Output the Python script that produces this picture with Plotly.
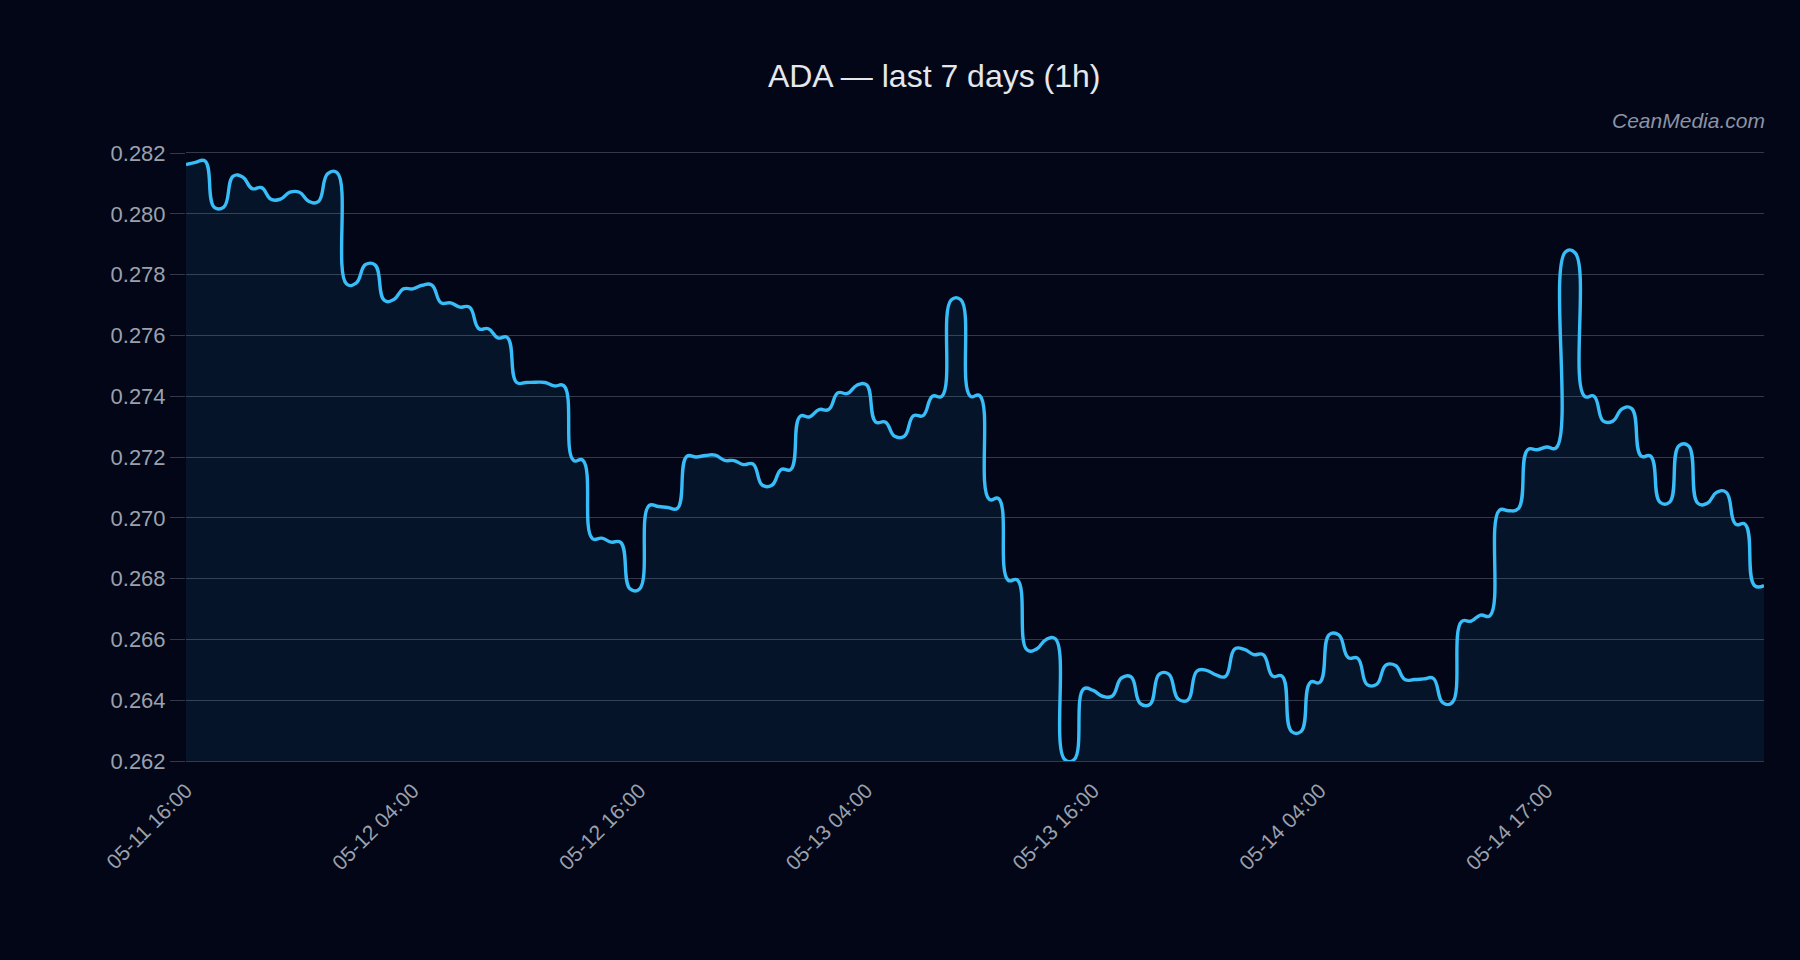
import plotly.graph_objects as go

TITLE = "ADA — last 7 days (1h)"
WATERMARK = "CeanMedia.com"

# price samples (one per x step)
PRICE = [
    0.28162, 0.28169, 0.28174, 0.28021, 0.28022, 0.28124, 0.28121, 0.28083, 0.28086, 0.28048,
    0.28048, 0.28071, 0.28071, 0.28041, 0.28040, 0.28132, 0.28135, 0.27769, 0.27772, 0.27833,
    0.27832, 0.27715, 0.27718, 0.27753, 0.27753, 0.27765, 0.27766, 0.27707, 0.27707, 0.27693,
    0.27693, 0.27622, 0.27622, 0.27592, 0.27593, 0.27445, 0.27445, 0.27446, 0.27445, 0.27434,
    0.27434, 0.27189, 0.27189, 0.26932, 0.26933, 0.26920, 0.26919, 0.26766, 0.26766, 0.27040,
    0.27037, 0.27034, 0.27031, 0.27202, 0.27200, 0.27205, 0.27206, 0.27189, 0.27188, 0.27175,
    0.27177, 0.27107, 0.27107, 0.27159, 0.27159, 0.27334, 0.27332, 0.27356, 0.27356, 0.27411,
    0.27409, 0.27436, 0.27438, 0.27315, 0.27315, 0.27268, 0.27268, 0.27336, 0.27336, 0.27400,
    0.27400, 0.27717, 0.27717, 0.27400, 0.27402, 0.27061, 0.27063, 0.26795, 0.26795, 0.26566,
    0.26568, 0.26599, 0.26602, 0.26205, 0.26205, 0.26437, 0.26432, 0.26413, 0.26413, 0.26473,
    0.26477, 0.26389, 0.26386, 0.26486, 0.26486, 0.26404, 0.26400, 0.26496, 0.26498, 0.26483,
    0.26478, 0.26569, 0.26567, 0.26550, 0.26550, 0.26479, 0.26479, 0.26297, 0.26297, 0.26459,
    0.26459, 0.26616, 0.26615, 0.26540, 0.26538, 0.26451, 0.26452, 0.26516, 0.26514, 0.26468,
    0.26468, 0.26470, 0.26472, 0.26392, 0.26392, 0.26659, 0.26660, 0.26680, 0.26678, 0.27025,
    0.27023, 0.27030, 0.27224, 0.27224, 0.27233, 0.27230, 0.27875, 0.27872, 0.27400, 0.27400,
    0.27318, 0.27318, 0.27359, 0.27359, 0.27203, 0.27203, 0.27051, 0.27051, 0.27237, 0.27237,
    0.27048, 0.27048, 0.27084, 0.27084, 0.26979, 0.26979, 0.26777, 0.26777,
]

TICK_LABELS = ["05-11 16:00", "05-12 04:00", "05-12 16:00", "05-13 04:00",
               "05-13 16:00", "05-14 04:00", "05-14 17:00"]
TICK_STEP = 24

Y_MIN, Y_MAX, Y_STEP = 0.262, 0.282, 0.002

BG = "#020617"
LINE = "#38bdf8"
GRID = "#323a4a"
TICKFONT = "#9aa1ad"
FONT = "Liberation Sans, Arial, sans-serif"

x = list(range(len(PRICE)))
tickvals = list(range(0, len(PRICE), TICK_STEP))[:len(TICK_LABELS)]

fig = go.Figure()
fig.add_trace(go.Scatter(
    x=x, y=PRICE, mode="lines",
    line=dict(color=LINE, width=3.4, shape="spline", smoothing=1.3),
    fill="tozeroy", fillcolor="rgba(56,189,248,0.08)",
    hoverinfo="skip", showlegend=False,
))

fig.update_layout(
    width=1800, height=960, autosize=False,
    paper_bgcolor=BG, plot_bgcolor=BG,
    margin=dict(l=186, r=36, t=153, b=199),
    font=dict(family=FONT, color=TICKFONT),
    title=dict(text=TITLE, x=0.519, xref="container", xanchor="center",
               y=1 - 76 / 960, yref="container", yanchor="middle",
               font=dict(size=32, color="#e5e7eb", family=FONT)),
    xaxis=dict(
        range=[0, len(PRICE) - 1], tickmode="array",
        tickvals=tickvals, ticktext=TICK_LABELS, tickangle=-45,
        showgrid=False, zeroline=False,
        showline=True, mirror=True, linecolor=GRID, linewidth=1.2,
        layer="below traces",
        ticks="outside", ticklen=8, tickcolor=BG,
        tickfont=dict(size=21, color=TICKFONT),
    ),
    yaxis=dict(
        range=[Y_MIN, Y_MAX], dtick=Y_STEP, tick0=Y_MIN,
        tickformat=".3f",
        showgrid=True, gridcolor=GRID, gridwidth=1.2, zeroline=False,
        showline=False, layer="below traces",
        ticks="outside", ticklen=15, tickcolor=GRID,
        tickfont=dict(size=22, color=TICKFONT),
    ),
    annotations=[dict(
        text=WATERMARK, xref="paper", yref="paper", x=1.002, y=1 + 33 / 608,
        xanchor="right", yanchor="middle", showarrow=False,
        font=dict(size=21, color="#8b93a5", family=FONT, style="italic"),
    )],
)

fig.write_html("out.html")
